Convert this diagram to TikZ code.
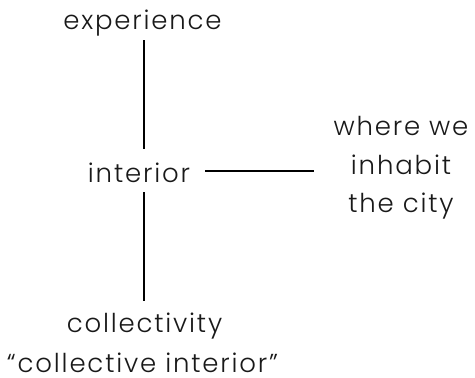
\documentclass[tikz,border=0pt]{standalone}
\usepackage{fontspec}
\setmainfont{Poppins Light}[LetterSpace=7]
\begin{document}
\begin{tikzpicture}[x=1pt,y=-1pt,
  label/.style={inner sep=0pt, anchor=base, font=\fontsize{26}{30}\selectfont, text=black!90},
  link/.style={line width=2.8pt, black}]
  \useasboundingbox (0,0) rectangle (475,378);

  % terms
  \node[label] (exp) at (142.5,29) {experience};
  \node[label] (int) at (139,182) {interior};
  \node[label] (col) at (144.5,332) {collectivity};
  \node[label] (ci)  at (142.5,372) {“collective interior”};
  \node[label] (w1) at (401,135) {where we};
  \node[label] (w2) at (401,174) {inhabit};
  \node[label] (w3) at (401,212) {the city};

  % connector end points
  \coordinate (a1) at (144,40);
  \coordinate (a2) at (144,149);
  \coordinate (b1) at (144,192);
  \coordinate (b2) at (144,301);
  \coordinate (c1) at (205,171);
  \coordinate (c2) at (314,171);

  \draw[link] (a1) -- (a2);
  \draw[link] (b1) -- (b2);
  \draw[link] (c1) -- (c2);
\end{tikzpicture}
\end{document}
